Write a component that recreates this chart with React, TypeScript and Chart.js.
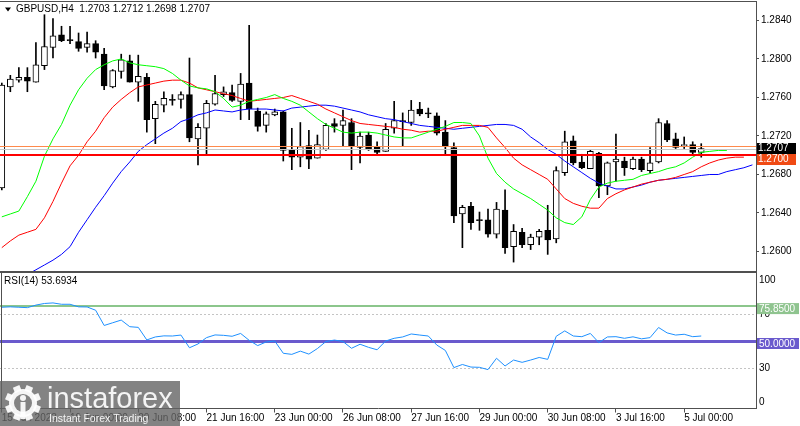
import React, { useEffect, useRef } from 'react';
import { Chart, registerables } from 'chart.js';

Chart.register(...registerables);

const FONT = '"Liberation Sans", Arial, sans-serif';
Chart.defaults.font.family = FONT;
Chart.defaults.font.size = 10;
Chart.defaults.color = '#000';

// ---------- data ----------
const SYMBOL_TITLE = 'GBPUSD,H4';
const LAST_OHLC = [1.2703, 1.2712, 1.2698, 1.2707];

const OPEN = [1.2666,1.2771,1.2778,1.2781,1.2776,1.2793,1.2812,1.2825,1.2820,1.2818,
1.2812,1.2816,1.2805,1.2771,1.2787,1.2798,1.2776,1.2781,1.2738,1.2752,
1.2757,1.2758,1.2763,1.2717,1.2728,1.2753,1.2763,1.2765,1.2756,1.2775,
1.2746,1.2731,1.2742,1.2745,1.2705,1.2698,1.2710,1.2697,1.2706,1.2733,
1.2731,1.2734,1.2708,1.2721,1.2709,1.2704,1.2728,1.2735,1.2734,1.2748,
1.2744,1.2741,1.2724,1.2708,1.2639,1.2647,1.2632,1.2633,1.2618,1.2643,
1.2605,1.2620,1.2607,1.2615,1.2622,1.2613,1.2682,1.2715,1.2693,1.2686,
1.2702,1.2668,1.2693,1.2694,1.2686,1.2696,1.2684,1.2693,1.2733,1.2717,
1.2710,1.2711,1.2703];
const HIGH = [1.2775,1.2783,1.2791,1.2791,1.2817,1.2846,1.2842,1.2834,1.2834,1.2827,
1.2828,1.2819,1.2811,1.2789,1.2805,1.2804,1.2804,1.2785,1.2756,1.2766,
1.2763,1.2766,1.2801,1.2733,1.2757,1.2783,1.2771,1.2773,1.2785,1.2835,
1.2749,1.2745,1.2748,1.2746,1.2728,1.2734,1.2726,1.2721,1.2733,1.2738,
1.2747,1.2738,1.2724,1.2724,1.2714,1.2733,1.2756,1.2744,1.2757,1.2755,
1.2749,1.2744,1.2736,1.2713,1.2648,1.2651,1.2641,1.2644,1.2651,1.2664,
1.2628,1.2624,1.2618,1.2623,1.2648,1.2688,1.2725,1.2720,1.2701,1.2706,
1.2703,1.2693,1.2722,1.2698,1.2698,1.2698,1.2708,1.2738,1.2736,1.2723,
1.2719,1.2714,1.2712];
const LOW = [1.2664,1.2766,1.2776,1.2766,1.2776,1.2789,1.2801,1.2818,1.2816,1.2808,
1.2807,1.2801,1.2768,1.2770,1.2780,1.2776,1.2756,1.2724,1.2712,1.2745,
1.2752,1.2749,1.2714,1.2690,1.2700,1.2752,1.2761,1.2756,1.2737,1.2737,
1.2725,1.2724,1.2741,1.2694,1.2685,1.2688,1.2686,1.2697,1.2705,1.2724,
1.2709,1.2685,1.2692,1.2705,1.2701,1.2704,1.2723,1.2709,1.2731,1.2741,
1.2739,1.2721,1.2700,1.2630,1.2604,1.2623,1.2622,1.2615,1.2614,1.2598,
1.2589,1.2604,1.2602,1.2607,1.2597,1.2609,1.2679,1.2690,1.2686,1.2686,
1.2656,1.2659,1.2673,1.2679,1.2685,1.2683,1.2682,1.2692,1.2714,1.2707,
1.2707,1.2700,1.2698];
const CLOSE = [1.2773,1.2779,1.2781,1.2777,1.2794,1.2813,1.2824,1.2819,1.2819,1.2811,
1.2816,1.2807,1.2772,1.2788,1.2799,1.2776,1.2782,1.2737,1.2753,1.2759,
1.2757,1.2763,1.2718,1.2729,1.2754,1.2764,1.2766,1.2757,1.2774,1.2748,
1.2730,1.2743,1.2745,1.2705,1.2698,1.2709,1.2696,1.2711,1.2731,1.2730,
1.2736,1.2709,1.2720,1.2706,1.2703,1.2727,1.2736,1.2735,1.2747,1.2743,
1.2743,1.2723,1.2709,1.2637,1.2646,1.2630,1.2632,1.2618,1.2644,1.2604,
1.2621,1.2607,1.2615,1.2621,1.2612,1.2684,1.2714,1.2692,1.2687,1.2704,
1.2668,1.2692,1.2696,1.2687,1.2696,1.2685,1.2692,1.2734,1.2716,1.2708,
1.2711,1.2703,1.2707];

// Alligator lines (already shifted forward: lips +3, teeth +5, jaw +8 bars)
const LIPS = [1.2636,1.2639,1.2642,1.2657,1.2673,1.2699,1.2717,1.2732,1.2752,1.2768,
1.2780,1.2789,1.2794,1.2798,1.2800,1.2796,1.2794,1.2793,1.2792,1.2790,
1.2785,1.2778,1.2772,1.2770,1.2769,1.2766,1.2759,1.2750,1.2752,1.2756,
1.2758,1.2760,1.2763,1.2759,1.2756,1.2752,1.2745,1.2738,1.2732,1.2728,
1.2724,1.2723,1.2724,1.2724,1.2723,1.2721,1.2719,1.2718,1.2718,1.2721,
1.2724,1.2727,1.2730,1.2734,1.2734,1.2733,1.2720,1.2697,1.2681,1.2672,
1.2665,1.2660,1.2655,1.2649,1.2643,1.2635,1.2630,1.2628,1.2636,1.2654,
1.2667,1.2671,1.2673,1.2674,1.2675,1.2679,1.2681,1.2683,1.2686,1.2688,
1.2692,1.2698,1.2703,1.2704,1.2705,1.2705];
const TEETH = [1.2604,1.2611,1.2617,1.2620,1.2623,1.2635,1.2652,1.2671,1.2689,1.2700,
1.2714,1.2725,1.2739,1.2750,1.2758,1.2765,1.2771,1.2773,1.2775,1.2777,
1.2778,1.2778,1.2775,1.2770,1.2768,1.2766,1.2764,1.2762,1.2759,1.2756,
1.2757,1.2758,1.2759,1.2760,1.2762,1.2759,1.2756,1.2753,1.2748,1.2744,
1.2740,1.2736,1.2733,1.2732,1.2731,1.2730,1.2729,1.2727,1.2726,1.2724,
1.2725,1.2725,1.2727,1.2729,1.2731,1.2731,1.2731,1.2729,1.2718,1.2708,
1.2697,1.2690,1.2685,1.2680,1.2675,1.2665,1.2655,1.2650,1.2647,1.2645,
1.2645,1.2655,1.2660,1.2664,1.2667,1.2670,1.2672,1.2674,1.2675,1.2677,
1.2680,1.2683,1.2688,1.2692,1.2695,1.2697,1.2698,1.2698];
const JAW = [1.2560,1.2565,1.2570,1.2576,1.2581,1.2586,1.2591,1.2597,1.2605,1.2620,
1.2633,1.2646,1.2658,1.2671,1.2683,1.2693,1.2704,1.2711,1.2717,1.2723,
1.2728,1.2735,1.2738,1.2742,1.2744,1.2747,1.2746,1.2745,1.2747,1.2748,
1.2748,1.2748,1.2747,1.2746,1.2749,1.2750,1.2751,1.2752,1.2752,1.2751,
1.2749,1.2747,1.2745,1.2742,1.2740,1.2738,1.2737,1.2735,1.2733,1.2731,
1.2730,1.2729,1.2728,1.2727,1.2728,1.2729,1.2730,1.2731,1.2732,1.2732,
1.2731,1.2727,1.2719,1.2713,1.2706,1.2701,1.2694,1.2688,1.2682,1.2676,
1.2671,1.2668,1.2665,1.2665,1.2667,1.2669,1.2672,1.2674,1.2675,1.2676,
1.2677,1.2678,1.2679,1.2680,1.2680,1.2683,1.2685,1.2687,1.2690];

const RSI = [75.0,75.3,75.0,74.7,76.6,77.8,78.2,77.2,77.2,75.3,
75.2,72.8,61.5,63.5,65.5,60.6,60.1,50.8,53.0,53.8,
53.7,54.4,45.0,47.8,52.5,54.5,54.2,53.5,55.6,50.5,
46.6,49.3,50.0,40.9,40.1,42.5,40.3,44.4,49.6,50.7,
49.6,44.6,47.6,45.3,43.5,50.0,52.0,53.0,55.2,54.4,
53.7,47.0,43.0,30.3,32.6,30.7,30.5,28.8,37.2,31.5,
35.9,34.2,35.9,37.8,36.4,53.5,57.5,53.7,53.2,55.6,
48.8,53.0,53.2,52.0,53.1,51.6,52.5,60.0,56.0,54.4,
55.0,53.2,53.6934];
const RSI_PERIOD = 14;

const PRICE_TICKS = [1.2600, 1.2640, 1.2680, 1.2720, 1.2760, 1.2800, 1.2840];
const BID_PRICE = 1.2707;
const RED_LEVEL = 1.2700;
const ORANGE_LEVEL = 1.2710;

const RSI_TICKS = [100, 70, 30, 0];
const RSI_DOTTED = [70, 30];
const RSI_UPPER = 75.85;
const RSI_MID = 50;

const TIME_TICKS = [0, 8, 16, 24, 32, 40, 48, 56, 64, 72, 80];
const TIME_LABELS = ['15 Jun 2023', '19 Jun 00:00', '20 Jun 08:00', '21 Jun 16:00', '23 Jun 00:00',
  '26 Jun 08:00', '27 Jun 16:00', '29 Jun 00:00', '30 Jun 08:00', '3 Jul 16:00', '5 Jul 00:00'];

const X_MIN = -0.211;
const X_MAX = 88.42;
const P_MIN = 1.25787;
const P_MAX = 1.28592;

const AXIS_W = 44;
const FRAME = '#505050';

const pts = (arr: number[]) => arr.map((v, i) => ({ x: i, y: v }));

const mainOverlay = {
  id: 'mainOverlay',
  afterDatasetsDraw(chart: any) {
    const { ctx, chartArea: a, scales } = chart;
    const y = scales.y;
    ctx.save();
    ctx.beginPath();
    ctx.rect(a.left, a.top, a.right - a.left, a.bottom - a.top);
    ctx.clip();
    const hl = (v: number, color: string, w: number) => {
      const py = Math.round(y.getPixelForValue(v)) + (w % 2 ? 0.5 : 0);
      ctx.strokeStyle = color;
      ctx.lineWidth = w;
      ctx.beginPath();
      ctx.moveTo(a.left, py);
      ctx.lineTo(a.right, py);
      ctx.stroke();
    };
    hl(BID_PRICE, '#c8c8c8', 1);
    hl(ORANGE_LEVEL, '#ff8a4c', 1);
    hl(RED_LEVEL, '#ff0000', 2);
    ctx.restore();
  },
  afterDraw(chart: any) {
    const { ctx, chartArea: a, scales } = chart;
    const y = scales.y;
    ctx.save();
    ctx.fillStyle = FRAME;
    ctx.fillRect(0, 1, a.right + 1, 1);
    ctx.fillRect(0, a.bottom - 1, a.right + 1, 2);
    // title
    ctx.fillStyle = '#000';
    ctx.beginPath();
    ctx.moveTo(5, 7.5); ctx.lineTo(11, 7.5); ctx.lineTo(8, 11.5); ctx.closePath();
    ctx.fill();
    ctx.font = `10px ${FONT}`;
    ctx.textBaseline = 'middle';
    ctx.textAlign = 'left';
    ctx.fillText(`${SYMBOL_TITLE}  ${LAST_OHLC.map((v) => v.toFixed(4)).join(' ')}`, 16, 9.5);
    // price boxes
    const boxes = [{ v: BID_PRICE, bg: '#000000' }, { v: RED_LEVEL, bg: '#f04a14' }];
    let prevBottom = -Infinity;
    boxes.forEach((b) => {
      const cy = y.getPixelForValue(b.v);
      const top = Math.max(cy - 5.5, prevBottom);
      ctx.fillStyle = b.bg;
      ctx.fillRect(a.right + 1, top, 39, 11);
      ctx.fillStyle = '#fff';
      ctx.fillText(b.v.toFixed(4), a.right + 2, top + 5.7);
      prevBottom = top + 11;
    });
    ctx.restore();
  },
};

function drawWatermark(ctx: CanvasRenderingContext2D, top: number) {
  ctx.save();
  ctx.fillStyle = 'rgba(100,100,100,0.8)';
  ctx.fillRect(0, top, 180, 45);
  const cx = 23, cy = top + 22;
  ctx.fillStyle = 'rgba(255,255,255,0.92)';
  for (let i = 0; i < 8; i++) {
    ctx.save();
    ctx.translate(cx, cy);
    ctx.rotate(i * Math.PI / 4 + Math.PI / 8);
    ctx.fillRect(-3.5, -18, 7, 6);
    ctx.restore();
  }
  ctx.beginPath(); ctx.arc(cx, cy, 14, 0, Math.PI * 2); ctx.fill();
  ctx.fillStyle = 'rgb(131,131,131)';
  ctx.beginPath(); ctx.arc(cx, cy, 9, 0, Math.PI * 2); ctx.fill();
  ctx.fillStyle = 'rgba(255,255,255,0.92)';
  ctx.beginPath(); ctx.arc(cx, cy - 5, 3, 0, Math.PI * 2); ctx.fill();
  ctx.fillRect(cx - 2.5, cy - 1, 5, 17);
  ctx.fillStyle = '#f4f4f4';
  ctx.textAlign = 'left';
  ctx.textBaseline = 'alphabetic';
  ctx.font = `29px ${FONT}`;
  ctx.fillText('instaforex', 47, top + 27);
  ctx.font = `10.5px ${FONT}`;
  ctx.fillText('Instant Forex Trading', 49, top + 40.5);
  ctx.restore();
}

const rsiOverlay = {
  id: 'rsiOverlay',
  beforeDatasetsDraw(chart: any) {
    const { ctx, chartArea: a, scales } = chart;
    const y = scales.y;
    ctx.save();
    ctx.lineWidth = 1;
    ctx.strokeStyle = '#c4c4c4';
    ctx.setLineDash([2, 2]);
    RSI_DOTTED.forEach((v) => {
      const py = Math.round(y.getPixelForValue(v)) + 0.5;
      ctx.beginPath(); ctx.moveTo(a.left, py); ctx.lineTo(a.right, py); ctx.stroke();
    });
    ctx.setLineDash([]);
    let py = Math.round(y.getPixelForValue(RSI_UPPER));
    ctx.strokeStyle = '#8cc68c';
    ctx.lineWidth = 2;
    ctx.beginPath(); ctx.moveTo(a.left, py); ctx.lineTo(a.right, py); ctx.stroke();
    py = Math.round(y.getPixelForValue(RSI_MID)) + 0.5;
    ctx.strokeStyle = '#6a5acd';
    ctx.lineWidth = 3;
    ctx.beginPath(); ctx.moveTo(a.left, py); ctx.lineTo(a.right, py); ctx.stroke();
    ctx.restore();
  },
  afterDraw(chart: any) {
    const { ctx, chartArea: a, scales } = chart;
    const y = scales.y;
    ctx.save();
    ctx.fillStyle = FRAME;
    ctx.fillRect(1, 0, 1, a.bottom);
    ctx.font = `10px ${FONT}`;
    ctx.textBaseline = 'middle';
    ctx.textAlign = 'left';
    ctx.fillStyle = '#000';
    ctx.fillText(`RSI(${RSI_PERIOD}) ${RSI[RSI.length - 1].toFixed(4)}`, 4, a.top + 8);
    RSI_TICKS.forEach((v) => {
      const p = Math.min(Math.max(y.getPixelForValue(v), a.top + 6.5), a.bottom - 6.5);
      ctx.fillText(String(v), a.right + 3, p);
    });
    const boxes = [{ v: RSI_UPPER, bg: '#8fc48f' }, { v: RSI_MID, bg: '#6a5acd' }];
    boxes.forEach((b) => {
      const cy = y.getPixelForValue(b.v) + 2.5;
      ctx.fillStyle = b.bg;
      ctx.fillRect(a.right + 1, cy - 5.5, 42, 11);
      ctx.fillStyle = '#fff';
      ctx.fillText(b.v.toFixed(4), a.right + 3, cy + 0.3);
    });
    drawWatermark(ctx, 108);
    ctx.restore();
  },
};

export default function App() {
  const mainRef = useRef<HTMLCanvasElement>(null);
  const rsiRef = useRef<HTMLCanvasElement>(null);

  useEffect(() => {
    const bodies = OPEN.map((o, i) => ({ x: i, y: [o, CLOSE[i]] }));
    const wicks = LOW.map((l, i) => ({ x: i, y: [l, HIGH[i]] }));
    const bodyColors = OPEN.map((o, i) => (CLOSE[i] > o ? '#ffffff' : '#000000'));

    const main = new Chart(mainRef.current as HTMLCanvasElement, {
      type: 'bar',
      data: {
        datasets: [
          { type: 'line', data: pts(LIPS), borderColor: '#00ff00', borderWidth: 1, pointRadius: 0, tension: 0, order: 0 } as any,
          { type: 'line', data: pts(TEETH), borderColor: '#ff0000', borderWidth: 1, pointRadius: 0, tension: 0, order: 0 } as any,
          { type: 'line', data: pts(JAW), borderColor: '#0000ff', borderWidth: 1, pointRadius: 0, tension: 0, order: 0 } as any,
          { type: 'bar', data: bodies, backgroundColor: bodyColors, borderColor: '#000', borderWidth: 1, borderSkipped: false, barThickness: 6, minBarLength: 1, grouped: false, order: 2 } as any,
          { type: 'bar', data: wicks, backgroundColor: '#000', borderWidth: 0, barThickness: 1, grouped: false, order: 3 } as any,
        ],
      },
      options: {
        animation: false,
        responsive: false,
        maintainAspectRatio: false,
        layout: { padding: { top: 2, bottom: 1, left: 0, right: 0 }, autoPadding: false },
        plugins: { legend: { display: false }, tooltip: { enabled: false } },
        scales: {
          x: { type: 'linear', display: false, min: X_MIN, max: X_MAX, offset: false },
          y: {
            position: 'right',
            min: P_MIN,
            max: P_MAX,
            afterBuildTicks: (s: any) => { s.ticks = PRICE_TICKS.map((v) => ({ value: v })); },
            afterFit: (s: any) => { s.width = AXIS_W; s.paddingTop = 0; s.paddingBottom = 0; },
            ticks: { callback: (v: any) => Number(v).toFixed(4), color: '#000', padding: 2, font: { family: FONT, size: 10 } },
            grid: { drawOnChartArea: false, tickLength: 3, color: FRAME },
            border: { display: true, color: FRAME, width: 1 },
          },
        },
      } as any,
      plugins: [mainOverlay],
    });

    const rsi = new Chart(rsiRef.current as HTMLCanvasElement, {
      type: 'line',
      data: {
        datasets: [
          { data: pts(RSI), borderColor: '#1e90ff', borderWidth: 1, pointRadius: 0, tension: 0 } as any,
        ],
      },
      options: {
        animation: false,
        responsive: false,
        maintainAspectRatio: false,
        layout: { padding: { top: 0.5, bottom: 0, left: 0, right: 0 }, autoPadding: false },
        plugins: { legend: { display: false }, tooltip: { enabled: false } },
        scales: {
          x: {
            type: 'linear',
            min: X_MIN,
            max: X_MAX,
            offset: false,
            afterBuildTicks: (s: any) => { s.ticks = TIME_TICKS.map((v) => ({ value: v })); },
            afterFit: (s: any) => { s.height = 17.5; s.paddingLeft = 0; s.paddingRight = 0; },
            ticks: {
              autoSkip: false, maxRotation: 0, minRotation: 0, align: 'start', padding: 0,
              color: '#000', font: { family: FONT, size: 10 },
              callback: (_v: any, i: number) => TIME_LABELS[i] ?? '',
            },
            grid: { drawOnChartArea: false, tickLength: 4, color: FRAME },
            border: { display: true, color: FRAME, width: 1 },
          },
          y: {
            position: 'right',
            min: 0,
            max: 100,
            ticks: { display: false },
            grid: { display: false },
            border: { display: true, color: FRAME, width: 1 },
            afterFit: (s: any) => { s.width = AXIS_W; s.paddingTop = 0; s.paddingBottom = 0; },
          },
        },
      } as any,
      plugins: [rsiOverlay],
    });

    return () => { main.destroy(); rsi.destroy(); };
  }, []);

  return (
    <div style={{ position: 'fixed', left: 0, top: 0, width: 800, height: 426, background: '#fff', overflow: 'hidden' }}>
      <canvas ref={mainRef} width={800} height={273} style={{ position: 'absolute', left: 0, top: 0, width: 800, height: 273 }} />
      <canvas ref={rsiRef} width={800} height={153} style={{ position: 'absolute', left: 0, top: 273, width: 800, height: 153 }} />
    </div>
  );
}
